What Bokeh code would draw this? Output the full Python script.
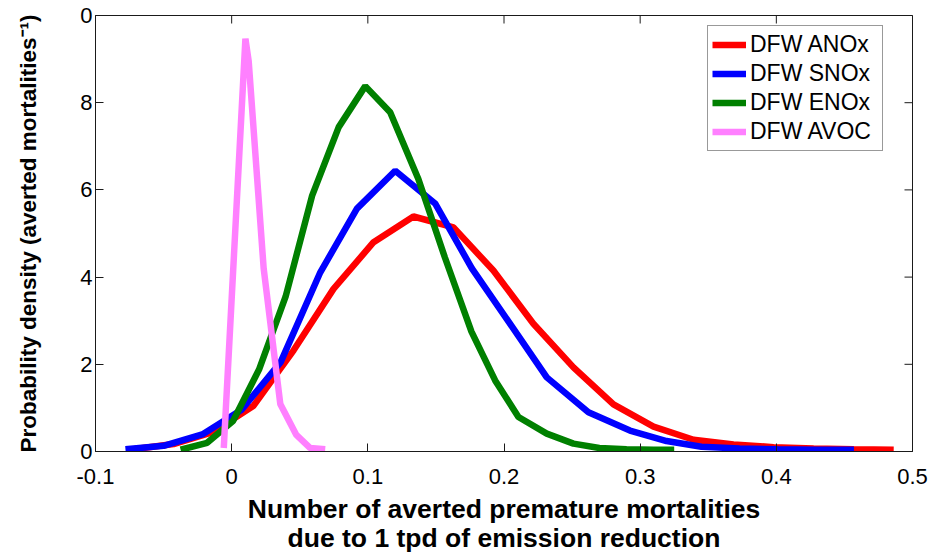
import math
from bokeh.plotting import figure
from bokeh.models import Range1d, FixedTicker, Legend, LegendItem
from bokeh.embed import file_html
from bokeh.resources import INLINE

# ---- data ----
anox_x = [-0.0721, -0.0427, -0.0133, 0.0161, 0.0455, 0.0748, 0.1042, 0.1335, 0.1629, 0.1922,
          0.2216, 0.2510, 0.2804, 0.3098, 0.3392, 0.3686, 0.3980, 0.4274, 0.4568, 0.4862]
anox_y = [0.05, 0.17, 0.45, 1.05, 2.32, 3.73, 4.80, 5.39, 5.14, 4.15,
          2.93, 1.93, 1.08, 0.57, 0.27, 0.16, 0.10, 0.07, 0.05, 0.04]

snox_x = [-0.078, -0.050, -0.021, 0.007, 0.036, 0.0651, 0.092, 0.1201, 0.1494, 0.1764,
          0.204, 0.2314, 0.262, 0.2925, 0.3194, 0.345, 0.373, 0.401, 0.429, 0.457]
snox_y = [0.05, 0.13, 0.40, 0.95, 2.05, 4.11, 5.57, 6.44, 5.69, 4.20,
          2.95, 1.70, 0.90, 0.48, 0.24, 0.11, 0.07, 0.05, 0.04, 0.04]

enox_x = [-0.0375, -0.018, 0.001, 0.0201, 0.0396, 0.0591, 0.0786, 0.0981, 0.1164, 0.1371,
          0.1566, 0.1761, 0.1935, 0.2106, 0.2314, 0.251, 0.270, 0.290, 0.310, 0.325]
enox_y = [0.04, 0.20, 0.70, 1.88, 3.55, 5.87, 7.44, 8.38, 7.78, 6.25,
          4.45, 2.75, 1.63, 0.79, 0.41, 0.18, 0.08, 0.05, 0.04, 0.04]

avoc_x = [-0.0058, 0.0101, 0.0125, 0.0235, 0.0357, 0.0475, 0.0577, 0.0687]
avoc_y = [0.08, 9.47, 8.95, 4.20, 1.09, 0.38, 0.08, 0.05]

series_names = ["DFW ANOx", "DFW SNOx", "DFW ENOx", "DFW AVOC"]
series_colors = ["#FF0000", "#0000FF", "#008000", "#FF80FF"]

x_ticks = [-0.1, 0.0, 0.1, 0.2, 0.3, 0.4, 0.5]
x_tick_labels = ["-0.1", "0", "0.1", "0.2", "0.3", "0.4", "0.5"]
y_ticks = [0, 2, 4, 6, 8, 10]
y_tick_labels = ["0", "2", "4", "6", "8", "0"]

x_label = "Number of averted premature mortalities\ndue to 1 tpd of emission reduction"
y_label = "Probability density (averted mortalities\u207b\u00b9)"

X_MIN, X_MAX = -0.1, 0.5
Y_MIN, Y_MAX = 0, 10

FONT = "Liberation Sans"
AXIS_COLOR = "#1a1a1a"

p = figure(width=930, height=555, output_backend="svg", toolbar_location=None,
           x_range=Range1d(X_MIN, X_MAX), y_range=Range1d(Y_MIN, Y_MAX),
           min_border_left=95, min_border_right=18, min_border_top=15,
           min_border_bottom=104)
p.background_fill_color = "white"
p.border_fill_color = "white"
p.outline_line_color = AXIS_COLOR
p.outline_line_width = 1
p.xgrid.visible = False
p.ygrid.visible = False

xs = [anox_x, snox_x, enox_x, avoc_x]
ys = [anox_y, snox_y, enox_y, avoc_y]
renderers = []
for sx, sy, c in zip(xs, ys, series_colors):
    r = p.line(sx, sy, line_color=c, line_width=6.5)
    renderers.append(r)

# inward tick marks on the top and right edges of the box (clipped to the frame)
p.scatter(x_ticks, [Y_MAX] * len(x_ticks), marker="dash", angle=math.pi / 2, size=16,
          line_color=AXIS_COLOR, line_width=1)
p.scatter([X_MAX] * len(y_ticks), y_ticks, marker="dash", size=16,
          line_color=AXIS_COLOR, line_width=1)


def style_axis(ax, ticks, labels):
    ax.ticker = FixedTicker(ticks=ticks)
    ax.major_label_overrides = {t: l for t, l in zip(ticks, labels)}
    ax.axis_line_color = AXIS_COLOR
    ax.axis_line_width = 1
    ax.major_tick_line_color = AXIS_COLOR
    ax.major_tick_in = 8
    ax.major_tick_out = 0
    ax.minor_tick_in = 0
    ax.minor_tick_out = 0
    ax.major_label_text_font = FONT
    ax.major_label_text_color = "black"
    ax.major_label_text_font_size = "22px"
    ax.axis_label_text_font = FONT
    ax.axis_label_text_font_style = "bold"
    ax.axis_label_text_color = "black"


xa = p.xaxis[0]
style_axis(xa, x_ticks, x_tick_labels)
xa.major_label_standoff = 17
xa.axis_label = x_label
xa.axis_label_text_font_size = "26.5px"
xa.axis_label_text_line_height = 0.97
xa.axis_label_standoff = 7

ya = p.yaxis[0]
style_axis(ya, y_ticks, y_tick_labels)
ya.major_label_standoff = 3
ya.axis_label = y_label
ya.axis_label_text_font_size = "22.5px"
ya.axis_label_standoff = 36

legend = Legend(items=[LegendItem(label=n, renderers=[r]) for n, r in zip(series_names, renderers)],
                location=(612, 300))
legend.label_text_font = FONT
legend.label_text_font_size = "23px"
legend.label_text_color = "black"
legend.glyph_width = 34
legend.glyph_height = 29
legend.label_height = 29
legend.label_width = 128
legend.spacing = 0
legend.padding = 4
legend.margin = 0
legend.label_standoff = 4
legend.border_line_color = "#333333"
legend.border_line_width = 1
legend.background_fill_color = "white"
legend.background_fill_alpha = 1.0
p.add_layout(legend)

open("out.html", "w").write(file_html(p, INLINE))
